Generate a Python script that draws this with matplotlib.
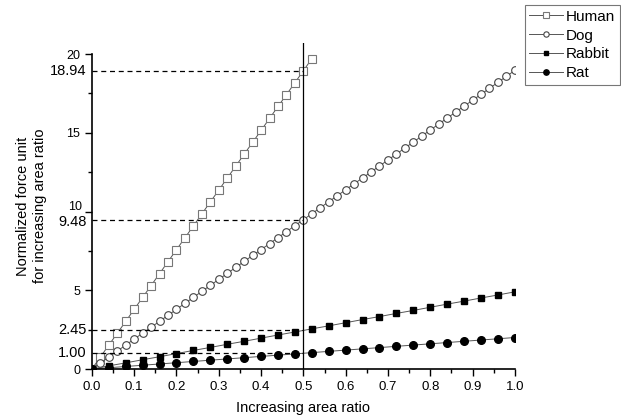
import matplotlib.pyplot as plt
from matplotlib.ticker import MultipleLocator
from matplotlib.transforms import ScaledTranslation

plt.rcParams['font.family'] = ['Liberation Sans', 'DejaVu Sans']

# x grids
x_fine = [0.00, 0.02, 0.04, 0.06, 0.08, 0.10, 0.12, 0.14, 0.16, 0.18,
          0.20, 0.22, 0.24, 0.26, 0.28, 0.30, 0.32, 0.34, 0.36, 0.38,
          0.40, 0.42, 0.44, 0.46, 0.48, 0.50, 0.52, 0.54, 0.56, 0.58,
          0.60, 0.62, 0.64, 0.66, 0.68, 0.70, 0.72, 0.74, 0.76, 0.78,
          0.80, 0.82, 0.84, 0.86, 0.88, 0.90, 0.92, 0.94, 0.96, 0.98, 1.00]
x_coarse = [0.00, 0.04, 0.08, 0.12, 0.16, 0.20, 0.24, 0.28, 0.32, 0.36,
            0.40, 0.44, 0.48, 0.52, 0.56, 0.60, 0.64, 0.68, 0.72, 0.76,
            0.80, 0.84, 0.88, 0.92, 0.96, 1.00]

human = [0.00, 0.76, 1.52, 2.27, 3.03, 3.79, 4.55, 5.30, 6.06, 6.82,
         7.58, 8.33, 9.09, 9.85, 10.61, 11.36, 12.12, 12.88, 13.64, 14.39,
         15.15, 15.91, 16.67, 17.42, 18.18, 18.94, 19.70]
dog = [0.00, 0.38, 0.76, 1.14, 1.52, 1.90, 2.28, 2.65, 3.03, 3.41,
       3.79, 4.17, 4.55, 4.93, 5.31, 5.69, 6.07, 6.45, 6.83, 7.21,
       7.58, 7.96, 8.34, 8.72, 9.10, 9.48, 9.86, 10.24, 10.62, 11.00,
       11.38, 11.76, 12.13, 12.51, 12.89, 13.27, 13.65, 14.03, 14.41, 14.79,
       15.17, 15.55, 15.93, 16.31, 16.69, 17.06, 17.44, 17.82, 18.20, 18.58, 18.96]
rabbit = [0.00, 0.20, 0.39, 0.59, 0.78, 0.98, 1.18, 1.37, 1.57, 1.76,
          1.96, 2.16, 2.35, 2.55, 2.74, 2.94, 3.14, 3.33, 3.53, 3.72,
          3.92, 4.12, 4.31, 4.51, 4.70, 4.90]
rat = [0.00, 0.08, 0.16, 0.24, 0.32, 0.40, 0.48, 0.56, 0.64, 0.72,
       0.80, 0.88, 0.96, 1.04, 1.12, 1.20, 1.28, 1.36, 1.44, 1.52,
       1.60, 1.68, 1.76, 1.84, 1.92, 2.00]

x_mark = 0.5
levels = [18.94, 9.48, 2.45, 1.00]
level_labels = ['18.94', '9.48', '2.45', '1.00']
y_ticks = [0, 5, 10, 15, 20]

fig = plt.figure(figsize=(6.21, 4.2), dpi=100)
ax = fig.add_axes([0.148, 0.1214, 0.681, 0.7762])

line_c = '#555555'
ax.plot(x_fine[:len(human)], human, '-', color=line_c, lw=0.7, marker='s', ms=5.5,
        mfc='white', mec='#777777', mew=0.8, label='Human')
ax.plot(x_fine, dog, '-', color=line_c, lw=0.7, marker='o', ms=5.5,
        mfc='white', mec='#444444', mew=0.8, label='Dog')
ax.plot(x_coarse, rabbit, '-', color=line_c, lw=0.7, marker='s', ms=5,
        mfc='black', mec='black', label='Rabbit')
ax.plot(x_coarse, rat, '-', color=line_c, lw=0.7, marker='o', ms=5.5,
        mfc='black', mec='black', label='Rat')

for lv in levels:
    ax.plot([0, x_mark], [lv, lv], '--', color='black', lw=0.9, dashes=(4, 3))
ax.axvline(x_mark, color='black', lw=0.9)

ax.set_xlim(0, 1.0)
ax.set_ylim(0, 20.7)
for s in ['top', 'right']:
    ax.spines[s].set_visible(False)
ax.spines['left'].set_bounds(0, 20)
ax.spines['left'].set_linewidth(1.2)
ax.spines['bottom'].set_linewidth(1.2)

ax.xaxis.set_major_locator(MultipleLocator(0.1))
ax.xaxis.set_minor_locator(MultipleLocator(0.05))
ax.set_yticks(y_ticks)
# "10" is written by hand below so it can sit a touch above the 9.48 label
ax.set_yticklabels(['' if v == 10 else str(v) for v in y_ticks])
ax.yaxis.set_minor_locator(MultipleLocator(2.5))
ax.tick_params(which='major', length=5, width=1, labelsize=9.5, direction='out')
ax.tick_params(axis='y', which='major', labelsize=9)
ax.tick_params(which='minor', length=3, width=1, direction='out')
ax.set_xticklabels(['%.1f' % v for v in ax.get_xticks()])

ytr = ax.get_yaxis_transform()
ax.text(-0.024, 10, '10', ha='right', va='center', fontsize=9,
        transform=ytr + ScaledTranslation(0, 3 / 72, fig.dpi_scale_trans))

for lv, lab in zip(levels, level_labels):
    tr = ytr
    if lv == 9.48:
        tr = ytr + ScaledTranslation(0, -2 / 72, fig.dpi_scale_trans)
    ax.text(-0.012, lv, lab, ha='right', va='center', fontsize=10.5, transform=tr)

ax.set_xlabel('Increasing area ratio', fontsize=10.5, labelpad=6)
ax.set_ylabel('Normalized force unit\nfor increasing area ratio', fontsize=10.5,
              labelpad=14)

leg = fig.legend(loc='upper left', bbox_to_anchor=(0.845, 0.988), fontsize=11,
                 frameon=True, fancybox=False, edgecolor='#555555',
                 handlelength=2.2, borderpad=0.3, labelspacing=0.32,
                 handletextpad=0.2, borderaxespad=0, markerscale=0.7)
leg.get_frame().set_linewidth(0.8)

fig.savefig('out.png', dpi=100)
